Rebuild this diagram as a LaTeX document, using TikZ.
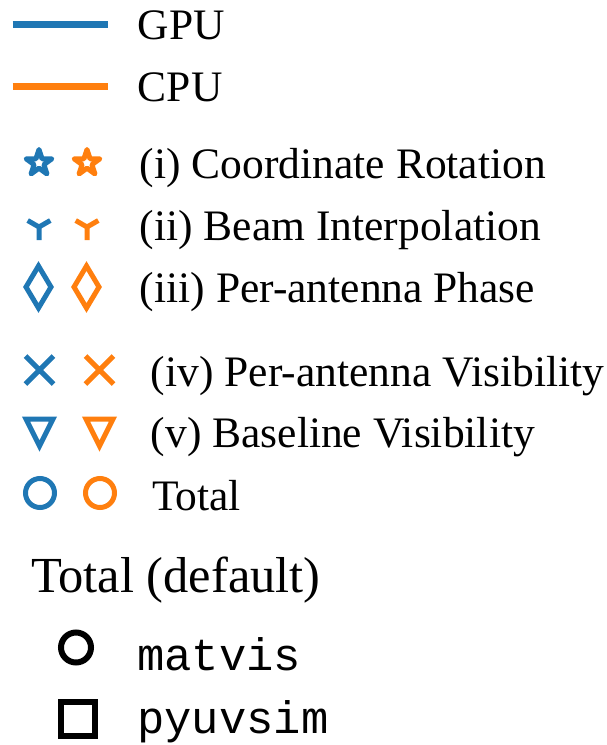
\documentclass[tikz,border=0pt]{standalone}
\usepackage{fontspec}
\setmainfont{Liberation Serif}
\setmonofont{Liberation Mono}
\definecolor{gpublue}{HTML}{1F77B4}
\definecolor{cpuorange}{HTML}{FF7F0E}
\tikzset{
  lbl/.style={anchor=base west, inner sep=0pt, font=\fontsize{43.5}{50}\selectfont},
  title/.style={anchor=base west, inner sep=0pt, font=\fontsize{50.5}{58}\selectfont},
  code/.style={anchor=base west, inner sep=0pt, font=\fontsize{45.5}{52}\selectfont\ttfamily},
  legline/.style={line width=7pt, line cap=butt},
  mk/.style={line width=5pt},
  blackmk/.style={line width=6pt, draw=black}
}
\begin{document}
\begin{tikzpicture}[x=1pt, y=-1pt]
  \useasboundingbox (0,0) rectangle (607,745);

  % device colour key
  \coordinate (gpuA) at (12.7,24);   \coordinate (gpuB) at (107.7,24);
  \coordinate (cpuA) at (12.7,86.5); \coordinate (cpuB) at (107.7,86.5);
  \draw[legline, gpublue] (gpuA) -- (gpuB);
  \draw[legline, cpuorange] (cpuA) -- (cpuB);
  \node[lbl] (gpu) at (137.6,39) {GPU};
  \node[lbl] (cpu) at (137.6,101) {CPU};

  % step markers, first group
  \foreach \c/\x in {gpublue/39, cpuorange/87} {
    % star
    \draw[mk, draw=\c, line join=round, shift={(\x,163)}]
      (-90:13.5) -- (-54:5.2) -- (-18:13.5) -- (18:5.2) -- (54:13.5)
      -- (90:5.2) -- (126:13.5) -- (162:5.2) -- (198:13.5) -- (234:5.2) -- cycle;
    % tri-down
    \draw[mk, draw=\c, line cap=butt, shift={(\x,227)}]
      (0,0) -- (0,13) (0,0) -- (-11.3,-6.5) (0,0) -- (11.3,-6.5);
    % thin diamond
    \draw[mk, draw=\c, line join=miter, shift={(\x-0.5,287)}]
      (0,-21) -- (12.5,0) -- (0,21) -- (-12.5,0) -- cycle;
  }
  \node[lbl] (rot) at (139.7,178) {(i) Coordinate Rotation};
  \node[lbl] (beam) at (139.7,240) {(ii) Beam Interpolation};
  \node[lbl] (phase) at (139.7,302) {(iii) Per-antenna Phase};

  % step markers, second group
  \foreach \c/\x in {gpublue/39.5, cpuorange/99.5} {
    % cross
    \draw[mk, draw=\c, line cap=butt, shift={(\x,370)}]
      (-14,-14) -- (14,14) (-14,14) -- (14,-14);
    % triangle down
    \draw[mk, draw=\c, line join=miter, shift={(\x,433)}]
      (-13.5,-14) -- (13.5,-14) -- (0,13) -- cycle;
    % circle
    \draw[mk, draw=\c] (\x+0.5,493) circle[radius=14.5pt];
  }
  \node[lbl] (antvis) at (150.7,386) {(iv) Per-antenna Visibility};
  \node[lbl] (blvis) at (150.7,447) {(v) Baseline Visibility};
  \node[lbl] (total) at (152,510) {Total};

  % simulator key
  \node[title] (deflt) at (31,592) {Total (default)};
  \draw[blackmk] (76,647.5) circle[radius=15pt];
  \draw[blackmk, line join=miter] (61,702) rectangle (95,736);
  \node[code] (matvis) at (137,670) {matvis};
  \node[code] (pyuvsim) at (137,733) {pyuvsim};
\end{tikzpicture}
\end{document}
